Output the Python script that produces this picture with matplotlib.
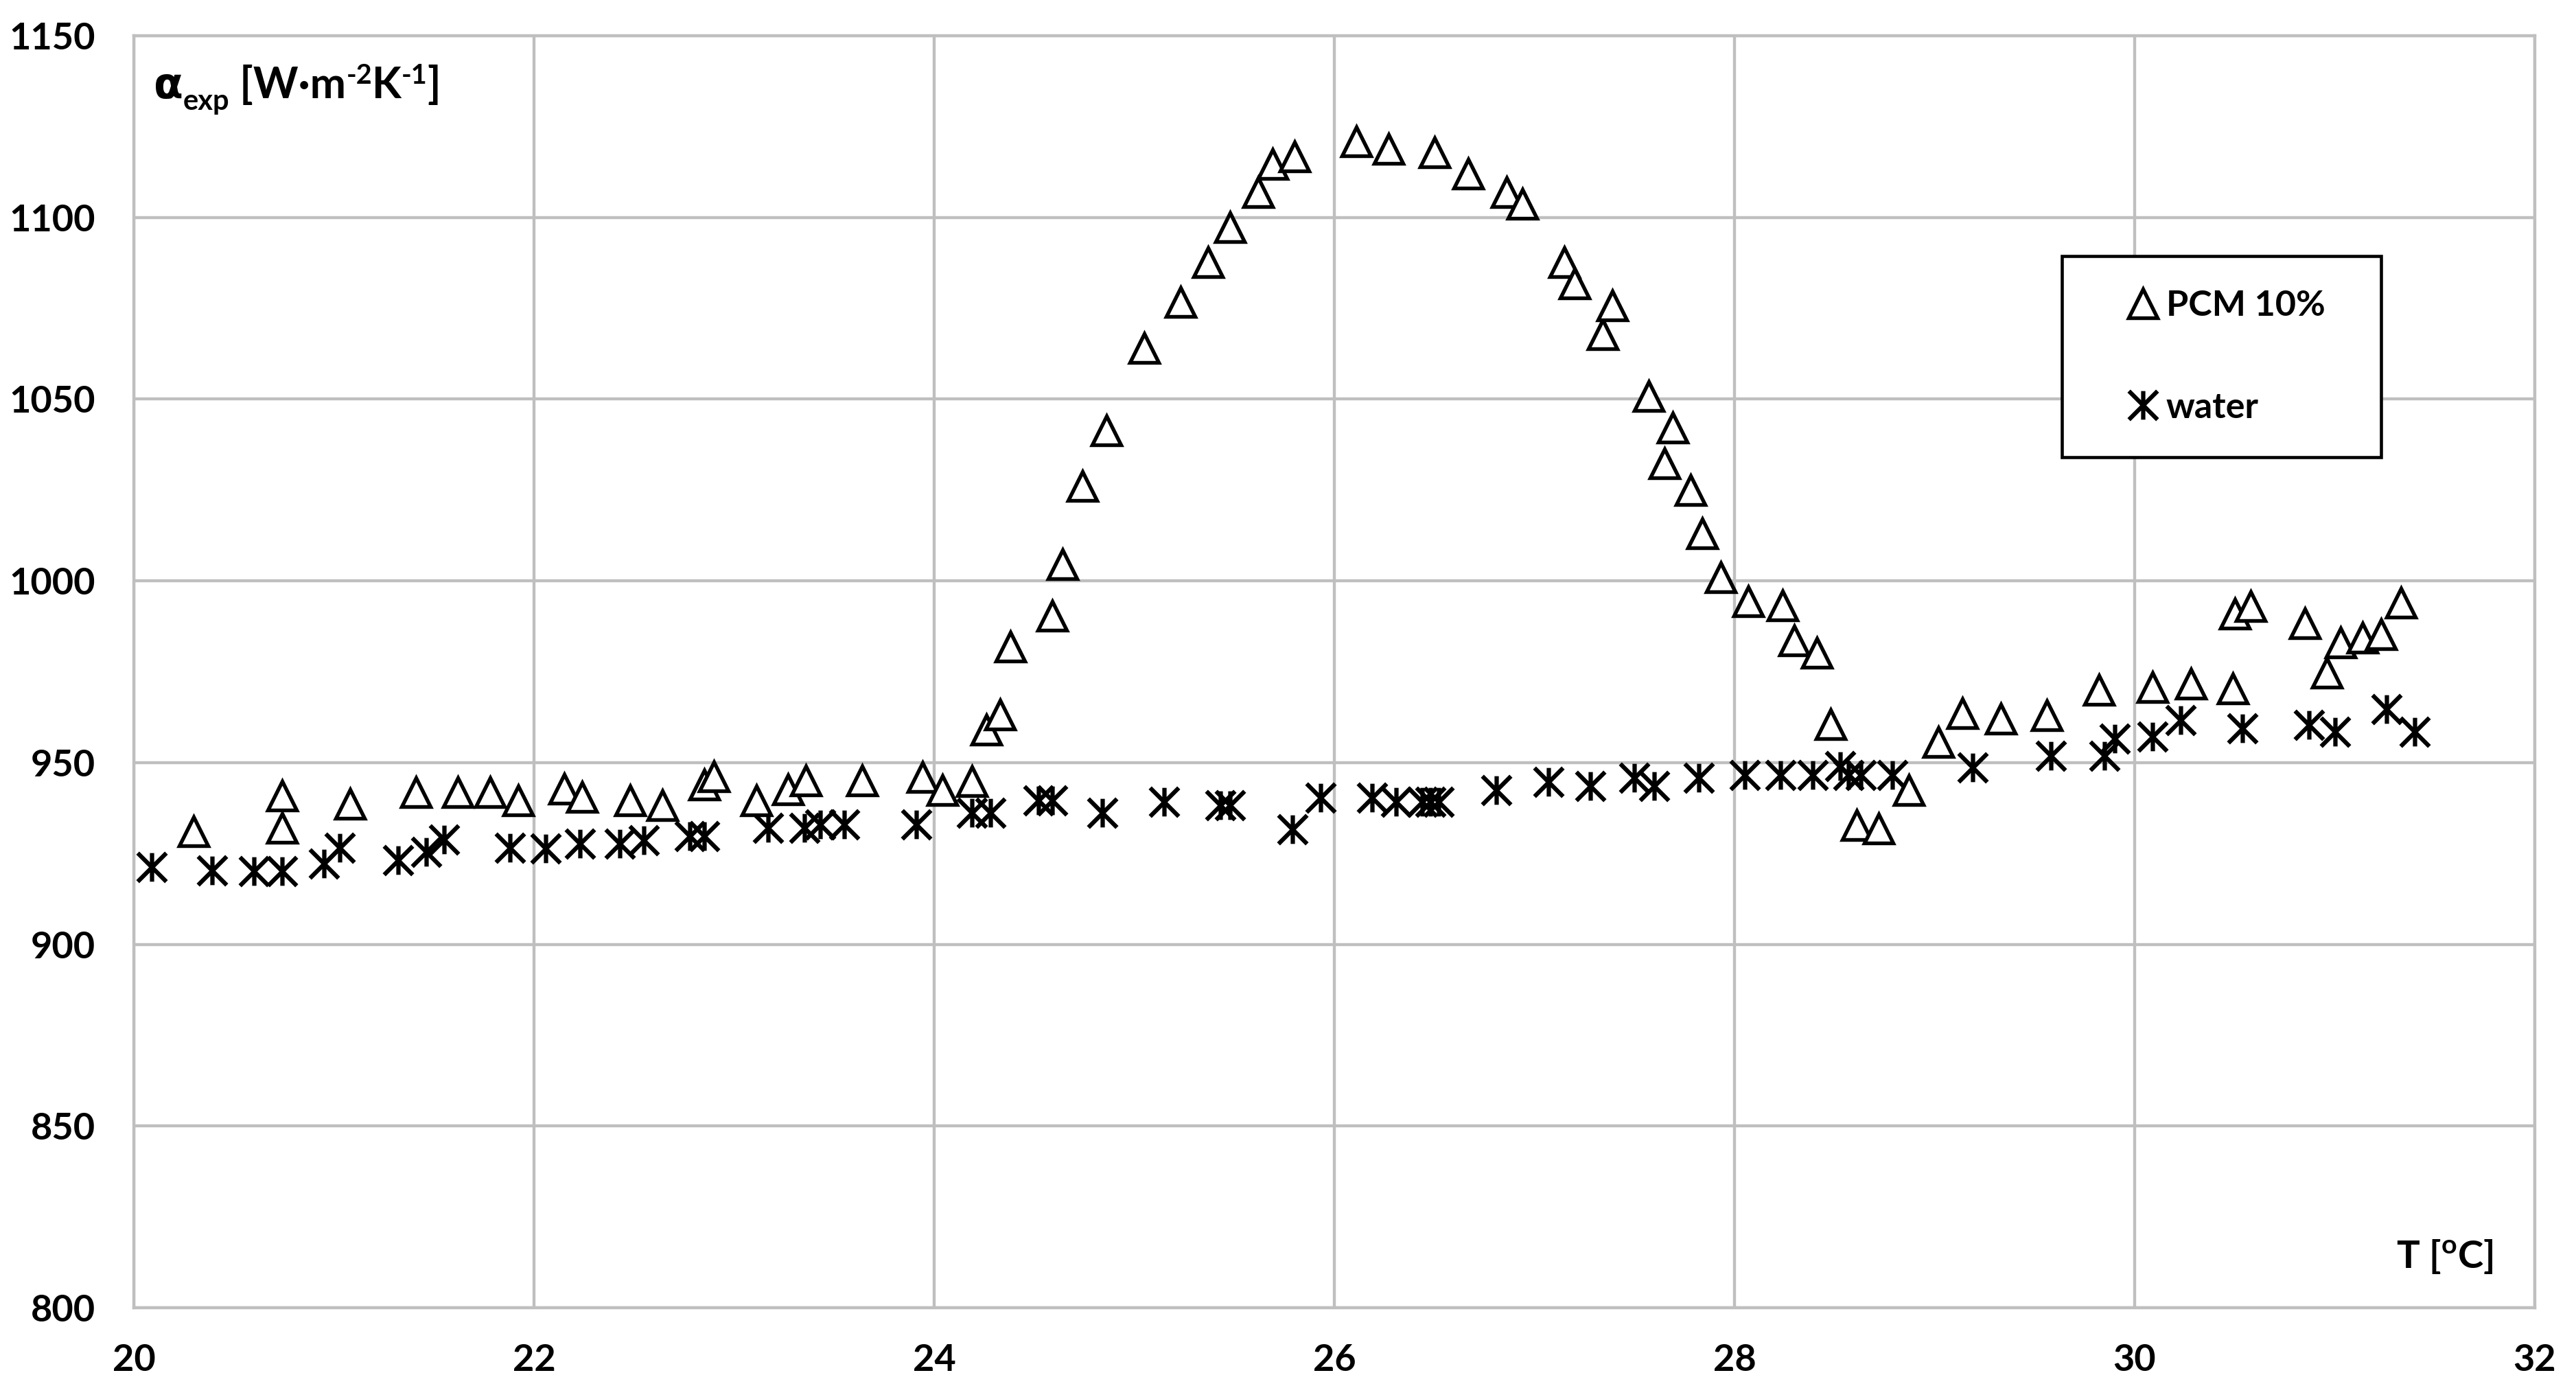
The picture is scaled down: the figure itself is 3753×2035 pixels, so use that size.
import matplotlib
matplotlib.use("Agg")
import matplotlib.pyplot as plt
from matplotlib.path import Path
from matplotlib.patches import Rectangle
from matplotlib.lines import Line2D

# ---- data ----
pcm_T = [20.30, 20.74, 20.74, 21.08, 21.41, 21.62, 21.78, 21.92, 22.15, 22.24,
         22.48, 22.64, 22.85, 22.90, 23.11, 23.27, 23.36, 23.64, 23.94, 24.04,
         24.19, 24.26, 24.33, 24.38, 24.59, 24.64, 24.74, 24.86, 25.05, 25.23,
         25.37, 25.48, 25.62, 25.69, 25.80, 26.11, 26.27, 26.50, 26.67, 26.86,
         26.94, 27.15, 27.20, 27.34, 27.39, 27.57, 27.65, 27.69, 27.78, 27.84,
         27.93, 28.07, 28.24, 28.30, 28.41, 28.48, 28.61, 28.72, 28.87, 29.02,
         29.14, 29.33, 29.56, 29.82, 30.09, 30.28, 30.49, 30.50, 30.58, 30.85,
         30.96, 31.03, 31.14, 31.23, 31.33]
pcm_alpha = [931, 941, 932, 938.6, 941.8, 941.8, 941.8, 939.6, 942.8, 940.6,
             939.6, 938.3, 944, 946.2, 939.6, 942.7, 945.1, 945, 946, 942.4,
             944.8, 959.1, 963.2, 981.8, 990.3, 1004.6, 1026, 1041.3, 1064, 1076.8,
             1087.6, 1097.3, 1107, 1114.6, 1116.8, 1121, 1118.9, 1117.8, 1112, 1107,
             1103.8, 1087.6, 1081.8, 1067.8, 1075.7, 1050.8, 1032.4, 1042.2, 1024.9, 1013,
             1001, 994.3, 993.2, 983.6, 980.2, 960.5, 932.7, 931.8, 942.5, 955.7,
             963.5, 962, 963, 970, 970.8, 971.7, 970.3, 990.9, 993.1, 988.4,
             974.8, 983, 984.3, 985.2, 994]

water_T = [20.09, 20.39, 20.60, 20.74, 20.95, 21.03, 21.32, 21.46, 21.55, 21.88,
           22.06, 22.23, 22.43, 22.55, 22.78, 22.85, 23.17, 23.35, 23.43, 23.55,
           23.91, 24.19, 24.28, 24.52, 24.59, 24.84, 25.15, 25.43, 25.48, 25.79,
           25.93, 26.19, 26.31, 26.44, 26.48, 26.52, 26.81, 27.07, 27.28, 27.50,
           27.60, 27.82, 28.05, 28.23, 28.39, 28.53, 28.57, 28.63, 28.79, 29.19,
           29.58, 29.85, 29.90, 30.09, 30.23, 30.54, 30.87, 31.00, 31.26, 31.40]
water_alpha = [921.2, 920.3, 920.1, 920.1, 922.2, 926.6, 923.2, 925.5, 928.8, 926.6,
               926.4, 927.7, 927.7, 928.7, 929.7, 929.7, 932, 932, 932.9, 932.9,
               932.9, 936.1, 936.1, 939.6, 939.6, 936.1, 939.3, 938.3, 938.3, 931.7,
               940.4, 940.4, 939.3, 939.3, 939.3, 939.3, 942.4, 944.6, 943.5, 945.9,
               943.5, 945.9, 946.5, 946.5, 946.5, 949.1, 946.5, 946.5, 946.5, 948.7,
               951.9, 951.9, 956.6, 957.2, 961.6, 959.4, 960.4, 958.5, 964.8, 958.5]

x_ticks = [20, 22, 24, 26, 28, 30, 32]
y_ticks = [800, 850, 900, 950, 1000, 1050, 1100, 1150]
series_labels = ["PCM 10%", "water"]

# ---- style ----
plt.rcParams['font.family'] = ['Lato', 'DejaVu Sans']
plt.rcParams['font.weight'] = 'bold'
plt.rcParams['mathtext.fontset'] = 'custom'
plt.rcParams['mathtext.rm'] = 'Lato:bold'

GRID = '#BFBFBF'
W, H, DPI = 3753, 2035, 300
fig = plt.figure(figsize=(W / DPI, H / DPI), dpi=DPI)
ax = fig.add_axes([195 / W, 1 - 1905 / H, (3693 - 195) / W, (1905 - 52) / H])

star = Path([(-1, -1), (1, 1), (-1, 1), (1, -1), (0, -1), (0, 1)],
            [Path.MOVETO, Path.LINETO, Path.MOVETO, Path.LINETO, Path.MOVETO, Path.LINETO])

ax.plot(water_T, water_alpha, linestyle='none', marker=star, markersize=10,
        markeredgewidth=1.5, color='black', zorder=3)
ax.plot(pcm_T, pcm_alpha, linestyle='none', marker='^', markersize=10,
        markeredgewidth=1.3, markerfacecolor='white', markeredgecolor='black', zorder=4)

ax.set_xlim(20, 32)
ax.set_ylim(800, 1150)
ax.set_xticks(x_ticks)
ax.set_yticks(y_ticks)
ax.grid(True, color=GRID, linewidth=1.05, zorder=0)
ax.set_axisbelow(True)
for s in ax.spines.values():
    s.set_color(GRID)
    s.set_linewidth(1.05)
ax.tick_params(axis='both', length=0, labelsize=13)
ax.tick_params(axis='x', pad=12.5)
ax.tick_params(axis='y', pad=13.5)
for lab in ax.get_xticklabels() + ax.get_yticklabels():
    lab.set_fontweight('bold')

# ---- y-axis title built from pieces (sub/superscripts) ----
renderer = fig.canvas.get_renderer()
x_px = 224.0
base_px = H - 143.0
pieces = [('α', 15, 0.0, 'DejaVu Sans'),
          ('exp', 10, -4.0, 'Lato'),
          (' [W·m', 15, 0.0, 'Lato'),
          ('-2', 9.5, 5.0, 'Lato'),
          ('K', 15, 0.0, 'Lato'),
          ('-1', 9.5, 5.0, 'Lato'),
          (']', 15, 0.0, 'Lato')]
for s, size, dy, fam in pieces:
    t = fig.text(x_px / W, (base_px + dy * DPI / 72) / H, s, fontsize=size,
                 family=fam, fontweight='bold', ha='left', va='baseline')
    x_px += t.get_window_extent(renderer).width

fig.text(3633 / W, 1 - 1830 / H, r'T [$^{\mathrm{o}}$C]', fontsize=13.5,
         fontweight='bold', ha='right', va='center')

# ---- legend ----
fig.patches.append(Rectangle((3004 / W, 1 - 666 / H), (3469 - 3004) / W, (666 - 373) / H,
                             transform=fig.transFigure, facecolor='white',
                             edgecolor='black', linewidth=1.1, zorder=5))
handles = [Line2D([], [], linestyle='none', marker='^', markersize=10, markeredgewidth=1.3,
                  markerfacecolor='white', markeredgecolor='black'),
           Line2D([], [], linestyle='none', marker=star, markersize=10, markeredgewidth=1.5,
                  color='black')]
leg = fig.legend(handles, series_labels, loc='upper left',
                 bbox_to_anchor=(3075 / W, 1 - 396 / H), frameon=False,
                 borderpad=0, handlelength=0.8, handletextpad=0.25,
                 labelspacing=1.95, prop={'family': 'Lato', 'weight': 'bold', 'size': 12.5})
leg.set_zorder(6)

fig.savefig('out.png', dpi=DPI, facecolor='white')
